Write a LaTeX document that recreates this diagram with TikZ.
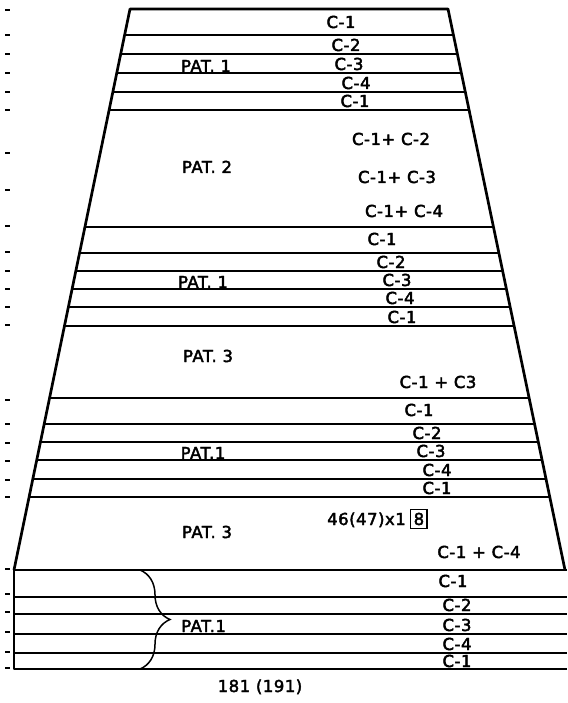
\documentclass[tikz,border=0pt]{standalone}
\usepackage{fontspec}
\usepackage{tikz}
\usetikzlibrary{positioning, calc, decorations.pathreplacing}
\newfontfamily\lettering{DejaVu Sans}[FakeBold=2.5, LetterSpace=3]

\begin{document}
\begin{tikzpicture}[x=1pt, y=-1pt,
  edge/.style={line width=2.7pt, line join=round},
  rule/.style={line width=2pt},
  tick/.style={line width=2pt},
  lbl/.style={font=\lettering\fontsize{16.5}{18}\selectfont, anchor=base, inner sep=0pt},
  brc/.style={decorate, decoration={brace, amplitude=30pt}, line width=1.5pt}]
\useasboundingbox (0,0) rectangle (567,703);
% outline of the taper and its foot
\coordinate (TL) at (130,9);
\coordinate (TR) at (448,9);
\coordinate (BL) at (14,570);
\coordinate (BR) at (565,570);
\coordinate (ER) at (567,570);
\coordinate (FL) at (14,669);
\coordinate (FR) at (567,669);
\draw[edge] (BL) -- (TL) -- (TR) -- (BR);
\draw[edge] (BL) -- (FL) -- (FR);
\draw[rule] (BL) -- (ER);
% bands
\foreach \y in {35,54,73,92,110,227,253,271,289,307,326,398,424,442,460,479,497}
  \draw[rule] ($(TL)!{(\y-9)/561}!(BL)$) -- ($(TR)!{(\y-9)/561}!(BR)$);
\foreach \y in {597,614,634,653}
  \draw[rule] (FL |- 0,\y) -- (FR |- 0,\y);
% ticks in the margin
\foreach \y in {10,35,54,73,92,110,153,190,226,252,271,289,307,325,400,424,443,461,480,497,569,594,612,632,652,668}
  \draw[tick] (5,\y) -- (10,\y);

% first PAT. 1
\foreach \t/\x/\y [count=\i] in {C-1/341/28, C-2/346/51, C-3/349/70, C-4/356/89, C-1/355/107}
  \node[lbl] (a\i) at (\x,\y) {\t};
\node[lbl] (pa) at (206,72) {PAT. 1};
% PAT. 2
\node[lbl] (pb) at (207,173) {PAT. 2};
\node[lbl] (b1) at (391,145) {C-1+ C-2};
\node[lbl] (b2) at (397,183) {C-1+ C-3};
\node[lbl] (b3) at (404,217) {C-1+ C-4};
% second PAT. 1
\foreach \t/\x/\y [count=\i] in {C-1/382/245, C-2/391/268, C-3/397/286, C-4/400/304, C-1/402/323}
  \node[lbl] (c\i) at (\x,\y) {\t};
\node[lbl] (pc) at (203,288) {PAT. 1};
% PAT. 3
\node[lbl] (pd) at (208,362) {PAT. 3};
\node[lbl] (d1) at (438,388) {C-1 + C3};
% third PAT.1
\foreach \t/\x/\y [count=\i] in {C-1/419/416, C-2/427/439, C-3/431/457, C-4/437/476, C-1/437/494}
  \node[lbl] (e\i) at (\x,\y) {\t};
\node[lbl] (pe) at (203,459) {PAT.1};
% second PAT. 3
\node[lbl, anchor=base west] (f1) at (327,525) {46(47)x1};
\node[lbl, draw, line width=1.4pt, inner sep=3pt, base right=4pt of f1] (f2) {8};
\node[lbl] (pf) at (207,538) {PAT. 3};
\node[lbl] (f3) at (479,558) {C-1 + C-4};
% last PAT.1 in the foot
\foreach \t/\x/\y [count=\i] in {C-1/453/587, C-2/457/611, C-3/457/631, C-4/457/650, C-1/457/667}
  \node[lbl] (g\i) at (\x,\y) {\t};
\draw[brc] (140,570) -- (140,669);
\node[lbl, anchor=base west] (pg) at (181,632) {PAT.1};
\node[lbl] (tot) at (260,692) {181 (191)};
\end{tikzpicture}
\end{document}
